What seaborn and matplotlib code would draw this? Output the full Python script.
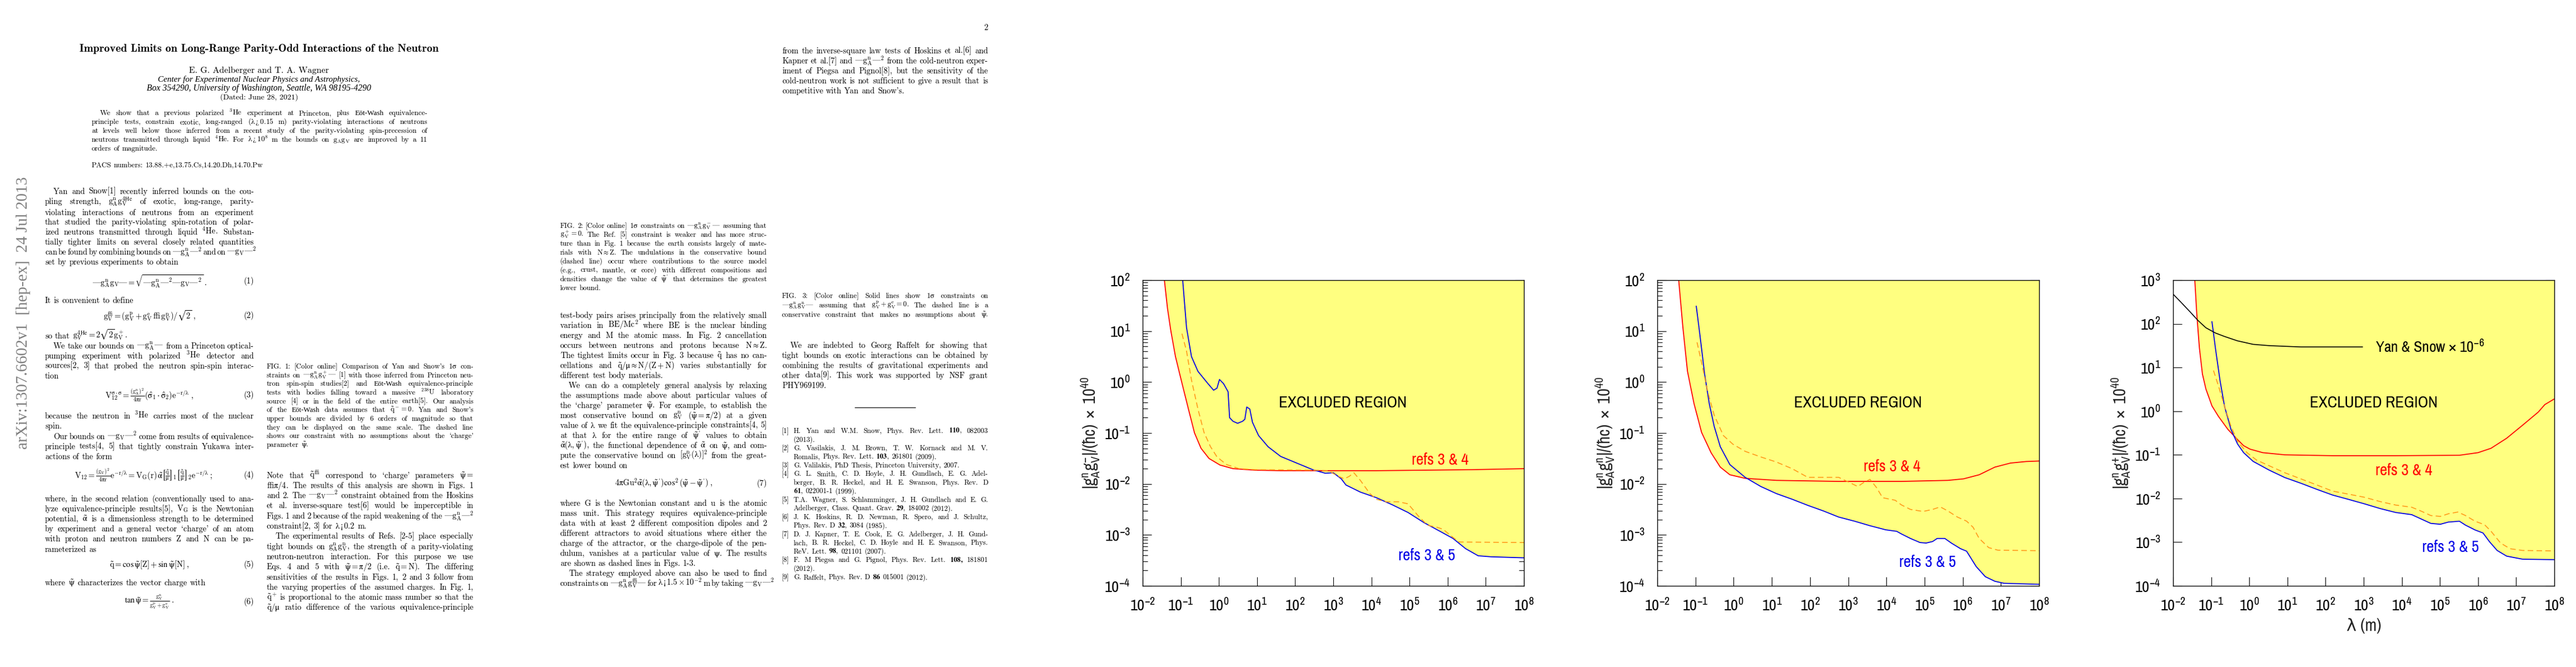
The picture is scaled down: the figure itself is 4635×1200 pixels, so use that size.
import matplotlib
matplotlib.use('Agg')
import matplotlib.pyplot as plt
import seaborn as sns
import numpy as np
import pandas as pd
from matplotlib import font_manager as fm
from matplotlib.ticker import LogLocator, NullLocator, LogFormatterSciNotation, NullFormatter

# ---------------- data (log10 values) ----------------
X_TICK_EXPONENTS = list(range(-2, 9))

# Panel 1 : |g_A^n g_V^-|
P1_RED_LOGX = [-1.43, -1.35, -1.26, -1.14, -0.97, -0.80, -0.64, -0.47, -0.26, 0.03, 0.37, 0.95, 1.62, 4.13, 6.64, 8.0]
P1_RED_LOGY = [2.0, 1.45, 1.0, 0.50, -0.02, -0.53, -1.0, -1.30, -1.50, -1.63, -1.70, -1.73, -1.74, -1.74, -1.72, -1.70]
P1_BLUE_LOGX = [-0.95, -0.85, -0.72, -0.55, -0.30, -0.14, -0.05, 0.015, 0.12, 0.24, 0.28, 0.37, 0.49, 0.62, 0.68, 0.73,
                0.81, 0.88, 1.04, 1.29, 1.62, 2.04, 2.46, 2.79, 3.0, 3.21, 3.33, 3.71, 4.13, 4.55, 4.96, 5.38, 5.80,
                6.14, 6.47, 6.80, 7.14, 8.0]
P1_BLUE_LOGY = [2.0, 1.07, 0.50, 0.21, -0.02, -0.16, -0.12, 0.05, -0.03, -0.19, -0.70, -0.77, -0.81, -0.77, -0.73, -0.49,
                -0.53, -0.79, -1.05, -1.27, -1.46, -1.59, -1.72, -1.79, -1.78, -1.90, -2.02, -2.16, -2.27, -2.41, -2.56,
                -2.76, -2.93, -3.07, -3.27, -3.41, -3.43, -3.45]
P1_DASH_LOGX = [-0.97, -0.85, -0.72, -0.55, -0.39, -0.22, -0.05, 0.20, 0.53, 0.95, 2.46, 2.87, 3.13, 3.29, 3.42, 3.54,
                3.71, 3.96, 4.13, 4.38, 4.71, 4.96, 5.22, 5.47, 5.72, 5.88, 6.14, 6.30, 8.0]
P1_DASH_LOGY = [0.95, 0.61, 0.04, -0.53, -0.99, -1.27, -1.47, -1.62, -1.70, -1.72, -1.73, -1.74, -1.85, -1.90, -1.85,
                -1.78, -1.93, -2.19, -2.30, -2.35, -2.35, -2.39, -2.62, -2.81, -2.85, -2.89, -3.05, -3.14, -3.15]

# Panel 2 : |g_A^n g_V^n|
P2_RED_LOGX = [-1.44, -1.33, -1.21, -1.04, -0.84, -0.59, -0.35, -0.10, 0.30, 1.12, 2.75, 4.39, 5.61, 6.02, 6.43, 6.84, 7.25, 7.66, 8.0]
P2_RED_LOGY = [2.0, 1.07, 0.21, -0.42, -0.99, -1.39, -1.67, -1.82, -1.89, -1.93, -1.95, -1.95, -1.93, -1.90, -1.82, -1.67, -1.59, -1.56, -1.55]
P2_BLUE_LOGX = [-0.98, -0.88, -0.76, -0.64, -0.51, -0.35, -0.10, 0.30, 0.71, 1.12, 1.53, 1.94, 2.35, 2.75, 3.16, 3.57,
                3.98, 4.27, 4.39, 4.63, 4.88, 5.04, 5.21, 5.33, 5.53, 5.70, 5.94, 6.10, 6.35, 6.59, 6.84, 7.08, 8.0]
P2_BLUE_LOGY = [1.49, 0.90, 0.15, -0.42, -0.87, -1.27, -1.62, -1.87, -2.05, -2.19, -2.30, -2.42, -2.53, -2.65, -2.73, -2.82,
                -2.90, -2.93, -2.98, -3.07, -3.15, -3.16, -3.13, -3.07, -3.07, -3.16, -3.27, -3.32, -3.62, -3.82, -3.91, -3.95, -3.97]
P2_DASH_LOGX = [-0.96, -0.84, -0.68, -0.51, -0.27, -0.02, 0.30, 0.71, 1.12, 1.53, 1.94, 2.75, 3.0, 3.25, 3.41, 3.57,
                3.74, 3.90, 4.23, 4.39, 4.63, 4.96, 5.21, 5.41, 5.61, 5.86, 6.10, 6.27, 6.43, 6.68, 6.92, 8.0]
P2_DASH_LOGY = [0.78, 0.38, -0.19, -0.65, -1.05, -1.22, -1.36, -1.47, -1.57, -1.70, -1.87, -1.87, -1.96, -2.05, -1.97, -1.91,
                -2.07, -2.27, -2.32, -2.41, -2.50, -2.54, -2.50, -2.45, -2.53, -2.65, -2.73, -2.85, -3.07, -3.25, -3.30, -3.31]

# Panel 3 : |g_A^n g_V^+|
P3_RED_LOGX = [-1.43, -1.38, -1.31, -1.23, -1.14, -0.98, -0.81, -0.56, -0.31, -0.15, 0.02, 0.35, 0.93, 2.18, 3.84, 5.51,
               6.0, 6.34, 6.75, 7.17, 7.58, 7.75, 8.0]
P3_RED_LOGY = [3.0, 2.25, 1.45, 0.85, 0.51, 0.12, -0.12, -0.42, -0.65, -0.79, -0.87, -0.95, -1.0, -1.02, -1.02, -1.01,
               -0.95, -0.85, -0.62, -0.32, -0.02, 0.15, 0.28]
P3_BLUE_LOGX = [-0.98, -0.89, -0.77, -0.65, -0.48, -0.31, -0.15, 0.10, 0.52, 0.93, 1.35, 1.77, 2.18, 2.60, 3.01, 3.43,
                3.84, 4.26, 4.51, 4.76, 5.01, 5.22, 5.51, 5.67, 5.92, 6.13, 6.30, 6.50, 6.75, 7.17, 8.0]
P3_BLUE_LOGY = [2.05, 1.45, 0.71, 0.11, -0.42, -0.75, -0.95, -1.15, -1.35, -1.52, -1.65, -1.79, -1.92, -2.02, -2.12, -2.23,
                -2.32, -2.37, -2.47, -2.57, -2.59, -2.54, -2.52, -2.61, -2.72, -2.79, -2.99, -3.19, -3.32, -3.39, -3.40]
P3_DASH_LOGX = [-0.94, -0.81, -0.65, -0.48, -0.31, -0.06, 0.19, 0.52, 0.93, 1.35, 1.77, 2.18, 2.60, 3.01, 3.43, 3.84,
                4.26, 4.51, 4.76, 5.01, 5.22, 5.47, 5.67, 5.92, 6.17, 6.34, 6.59, 6.84, 7.17, 8.0]
P3_DASH_LOGY = [0.93, 0.58, 0.11, -0.35, -0.69, -0.95, -1.12, -1.25, -1.41, -1.55, -1.69, -1.83, -1.90, -1.97, -2.07, -2.15,
                -2.20, -2.29, -2.39, -2.41, -2.35, -2.31, -2.39, -2.52, -2.60, -2.75, -3.02, -3.15, -3.19, -3.20]
P3_YS_LOGX = [-2.0, -1.81, -1.56, -1.35, -1.14, -0.89, -0.65, -0.31, 0.10, 0.52, 1.35, 2.18, 2.97]
P3_YS_LOGY = [2.68, 2.51, 2.28, 2.08, 1.91, 1.79, 1.71, 1.61, 1.53, 1.50, 1.47, 1.47, 1.47]

PANEL_YLABELS = [r'$|g^{n}_{A}g^{-}_{V}|/(ħc)\ \times\ 10^{40}$',
                 r'$|g^{n}_{A}g^{n}_{V}|/(ħc)\ \times\ 10^{40}$',
                 r'$|g^{n}_{A}g^{+}_{V}|/(ħc)\ \times\ 10^{40}$']
PANEL_YLIMS = [(1e-4, 1e2), (1e-4, 1e2), (1e-4, 1e3)]

# ---------------- style ----------------
sns.set_style('ticks')
avail = {f.name for f in fm.fontManager.ttflist}
CHART = 'DejaVu Sans'
for cand in ['Liberation Sans Narrow', 'Archivo Narrow', 'Roboto Condensed', 'Fira Sans Condensed',
             'Barlow Semi Condensed', 'DejaVu Sans']:
    if cand in avail:
        CHART = cand
        break
SC = 1.0 if CHART != 'DejaVu Sans' else 0.8
USE_CM = 'cmr10' in avail
SERIF = ['cmr10'] if USE_CM else ['Liberation Serif', 'DejaVu Serif']
SERIF_B = ['cmb10'] if 'cmb10' in avail else ['Liberation Serif', 'DejaVu Serif']
SERIF_ALT = ['Liberation Serif', 'DejaVu Serif']
MATHF = 'stix'
plt.rcParams.update({
    'font.family': [CHART, 'DejaVu Sans'],
    'mathtext.fontset': 'custom',
    'mathtext.rm': CHART,
    'mathtext.it': CHART + ':italic',
    'mathtext.bf': CHART + ':bold',
    'mathtext.default': 'regular',
    'axes.linewidth': 1.0,
    'axes.edgecolor': 'black',
})

W, H = 4635, 1200
fig = plt.figure(figsize=(W / 100, H / 100), dpi=100)
fig.patch.set_facecolor('white')
renderer = fig.canvas.get_renderer()


def fx(x):
    return x / W


def fy(y):
    return 1 - y / H


YELLOW = '#ffff80'
RED = '#ff0000'
BLUE = '#0000e6'
ORANGE = '#ff9a1a'

AX_X = [(2056, 2742), (2982, 3669), (3910, 4596)]
AX_TOP, AX_BOT = 504, 1054

panels = [
    dict(red=(P1_RED_LOGX, P1_RED_LOGY), blue=(P1_BLUE_LOGX, P1_BLUE_LOGY), dash=(P1_DASH_LOGX, P1_DASH_LOGY),
         ex=(0.525, 0.599), r34=(0.780, 0.411), r35=(0.745, 0.099)),
    dict(red=(P2_RED_LOGX, P2_RED_LOGY), blue=(P2_BLUE_LOGX, P2_BLUE_LOGY), dash=(P2_DASH_LOGX, P2_DASH_LOGY),
         ex=(0.525, 0.599), r34=(0.614, 0.390), r35=(0.708, 0.078)),
    dict(red=(P3_RED_LOGX, P3_RED_LOGY), blue=(P3_BLUE_LOGX, P3_BLUE_LOGY), dash=(P3_DASH_LOGX, P3_DASH_LOGY),
         ex=(0.526, 0.599), r34=(0.605, 0.378), r35=(0.727, 0.126)),
]


def curve_df(lx, ly):
    return pd.DataFrame({'x': np.power(10.0, lx), 'y': np.power(10.0, ly)})


for i, p in enumerate(panels):
    x0, x1 = AX_X[i]
    ax = fig.add_axes([fx(x0), fy(AX_BOT), (x1 - x0) / W, (AX_BOT - AX_TOP) / H])
    ax.set_xscale('log')
    ax.set_yscale('log')
    ylo, yhi = PANEL_YLIMS[i]
    ax.set_xlim(10.0 ** X_TICK_EXPONENTS[0], 10.0 ** X_TICK_EXPONENTS[-1])
    ax.set_ylim(ylo, yhi)
    ax.set_facecolor('white')

    red = curve_df(*p['red'])
    blue = curve_df(*p['blue'])
    dash = curve_df(*p['dash'])
    for d in (red, blue):
        ax.fill_between(d['x'], d['y'], yhi, color=YELLOW, lw=0, zorder=1)
    sns.lineplot(data=red, x='x', y='y', ax=ax, color=RED, lw=1.3, estimator=None, sort=False, legend=False, zorder=3)
    sns.lineplot(data=blue, x='x', y='y', ax=ax, color=BLUE, lw=1.3, estimator=None, sort=False, legend=False, zorder=3)
    sns.lineplot(data=dash, x='x', y='y', ax=ax, color=ORANGE, lw=1.2, linestyle=(0, (6, 3.5)), estimator=None,
                 sort=False, legend=False, zorder=3)
    if i == 2:
        ys = curve_df(P3_YS_LOGX, P3_YS_LOGY)
        sns.lineplot(data=ys, x='x', y='y', ax=ax, color='black', lw=1.2, estimator=None, sort=False, legend=False,
                     zorder=3)
        ax.text(0.530, 0.78, r'Yan & Snow $\times$ 10$^{-6}$', transform=ax.transAxes, ha='left', va='center',
                fontsize=20 * SC, color='black')
        ax.set_xlabel('λ (m)', fontsize=22 * SC, labelpad=6)
    else:
        ax.set_xlabel('')

    ax.text(*p['ex'], 'EXCLUDED REGION', transform=ax.transAxes, ha='center', va='center', fontsize=21 * SC,
            color='black')
    ax.text(*p['r34'], 'refs 3 & 4', transform=ax.transAxes, ha='center', va='center', fontsize=21 * SC, color=RED)
    ax.text(*p['r35'], 'refs 3 & 5', transform=ax.transAxes, ha='center', va='center', fontsize=21 * SC, color=BLUE)

    ax.set_ylabel(PANEL_YLABELS[i], fontsize=22 * SC)
    ax.yaxis.set_label_coords(-0.108, 0.5)

    ax.xaxis.set_major_locator(LogLocator(base=10, numticks=30))
    ax.xaxis.set_minor_locator(NullLocator())
    ax.xaxis.set_major_formatter(LogFormatterSciNotation())
    ax.yaxis.set_major_locator(LogLocator(base=10, numticks=30))
    if i < 2:
        ax.yaxis.set_minor_locator(LogLocator(base=10, subs=np.arange(2, 10), numticks=30))
    else:
        ax.yaxis.set_minor_locator(NullLocator())
    ax.yaxis.set_minor_formatter(NullFormatter())
    ax.tick_params(which='both', direction='in', top=True, right=True, width=0.8, colors='black')
    ax.tick_params(which='major', length=11.5, labelsize=20.5 * SC)
    ax.tick_params(which='minor', length=6.5)
    ax.tick_params(axis='x', which='major', pad=15)
    ax.tick_params(axis='y', which='major', pad=16)
    for s in ax.spines.values():
        s.set_visible(True)
        s.set_linewidth(1.0)
        s.set_zorder(5)

# ---------------- paper text ----------------


def prep(word):
    """Pick a font for a word: the bundled cmr10 lacks some glyphs."""
    if not USE_CM:
        return word, SERIF
    plain = word
    if '$' not in word:
        plain = word.replace('’', "'").replace('‘', '`').replace('–', '-')
    else:
        outside = word.split('$')[0::2]
        if any(c in ''.join(outside) for c in '’‘–'):
            parts = word.split('$')
            for k in range(0, len(parts), 2):
                parts[k] = parts[k].replace('’', "'").replace('‘', '`').replace('–', '-')
            plain = '$'.join(parts)
    outside = ''.join(plain.split('$')[0::2])
    if any(ord(c) > 126 for c in outside):
        return word, SERIF_ALT
    return plain, SERIF


def tokens(s):
    out, cur, inmath = [], '', False
    for ch in s:
        if ch == '$':
            inmath = not inmath
            cur += ch
        elif ch == ' ' and not inmath:
            if cur:
                out.append(cur)
            cur = ''
        else:
            cur += ch
    if cur:
        out.append(cur)
    return out


def L(x0, x1, y, s, size, just=True, indent=0):
    words = tokens(s)
    xs = x0 + indent
    base = y + size * 100 / 72 * 0.45
    ts, ws = [], []
    for w in words:
        txt, fam = prep(w)
        t = fig.text(fx(xs), fy(base), txt, fontsize=size, family=fam, math_fontfamily=MATHF, va='baseline',
                     ha='left', color='black')
        ws.append(t.get_window_extent(renderer).width)
        ts.append(t)
    if just and len(words) > 1:
        gap = (x1 - xs - sum(ws)) / (len(words) - 1)
        gap = max(gap, 2.0)
    else:
        gap = size * 100 / 72 * 0.33
    x = xs
    for t, w in zip(ts, ws):
        t.set_x(fx(x))
        x += w + gap


def C(x, y, s, size, fam=None, ha='center', style='normal', fit=None):
    if fam is None:
        s, fam = prep(s)
    t = fig.text(fx(x), fy(y), s, fontsize=size, family=fam, math_fontfamily=MATHF, va='center', ha=ha,
                 style=style, color='black')
    if fit:
        w = t.get_window_extent(renderer).width
        t.set_fontsize(size * fit / w)
    return t


def block(x0, x1, y0, dy, lines, size, indents=(), last=()):
    for k, s in enumerate(lines):
        L(x0, x1, y0 + k * dy, s, size, just=(k not in last), indent=(15 if k in indents else 0))


BODY, CAP, ABS, REF = 10.5, 9.3, 9.5, 9.2

# arXiv stamp
fig.text(fx(42), fy(563), 'arXiv:1307.6602v1  [hep-ex]  24 Jul 2013', rotation=90, ha='center', va='center',
         fontsize=21, family=['Liberation Serif', 'DejaVu Serif'], color='#808080')

# page 1 header
C(466, 88, 'Improved Limits on Long-Range Parity-Odd Interactions of the Neutron', 13.3, fam=SERIF_B, fit=648)
C(466, 127, 'E. G. Adelberger and T. A. Wagner', 11, fit=252)
C(466, 143, 'Center for Experimental Nuclear Physics and Astrophysics,', 10, fam=SERIF_ALT, style='italic', fit=363)
C(466, 159, 'Box 354290, University of Washington, Seattle, WA 98195-4290', 10, fam=SERIF_ALT, style='italic', fit=405)
C(466, 175, '(Dated: June 28, 2021)', 10, fit=141)
abstract = [
    'We show that a previous polarized $^3$He experiment at Princeton, plus Eöt-Wash equivalence-',
    r'principle tests, constrain exotic, long-ranged ($\lambda>0.15$ m) parity-violating interactions of neutrons',
    'at levels well below those inferred from a recent study of the parity-violating spin-precession of',
    r'neutrons transmitted through liquid $^4$He. For $\lambda>10^8$ m the bounds on $g_Ag_V$ are improved by a 11',
    'orders of magnitude.',
]
block(165, 769, 201, 16, abstract, ABS, indents=(0,), last=(4,))
L(165, 769, 295, 'PACS numbers: 13.88.+e,13.75.Cs,14.20.Dh,14.70.Pw', ABS, just=False)

# page 1 left column
c0, c1 = 81, 457
block(c0, c1, 342, 18.5, [
    'Yan and Snow[1] recently inferred bounds on the cou-',
    r'pling strength, $g_A^ng_V^{4\mathrm{He}}$ of exotic, long-range, parity-',
], BODY, indents=(0,))
block(c0, c1, 380, 17.8, [
    'violating interactions of neutrons from an experiment',
    'that studied the parity-violating spin-rotation of polar-',
    r'ized neutrons transmitted through liquid $^4$He. Substan-',
    'tially tighter limits on several closely related quantities',
    r'can be found by combining bounds on $|g_A^n|^2$ and on $|g_V|^2$',
    'set by previous experiments to obtain',
], BODY, last=(5,))
cm1 = (c0 + c1) / 2
C(cm1, 506, r'$|g_A^ng_V|=\sqrt{|g_A^n|^2|g_V|^2}\ .$', BODY)
C(c1, 506, '(1)', BODY, ha='right')
L(c0, c1, 538, 'It is convenient to define', BODY, just=False)
C(cm1, 568, r'$g_V^{\pm}=(g_V^p+g_V^e\pm g_V^n)/\sqrt{2}\ ,$', BODY)
C(c1, 568, '(2)', BODY, ha='right')
L(c0, c1, 602, r'so that $g_V^{4\mathrm{He}}=2\sqrt{2}g_V^+$.', BODY, just=False)
block(c0, c1, 620, 18, [
    r'We take our bounds on $|g_A^n|$ from a Princeton optical-',
    'pumping experiment with polarized $^3$He detector and',
    'sources[2, 3] that probed the neutron spin-spin interac-',
    'tion',
], BODY, indents=(0,), last=(3,))
C(cm1, 711, r'$V_{12}^{\sigma\cdot\sigma}=\frac{(g_A^n)^2}{4\pi r}(\hat{\sigma}_1\cdot\hat{\sigma}_2)e^{-r/\lambda}\ ,$', BODY)
C(c1, 711, '(3)', BODY, ha='right')
block(c0, c1, 746, 18, [
    'because the neutron in $^3$He carries most of the nuclear',
    'spin.',
], BODY, last=(1,))
block(c0, c1, 783, 18, [
    r'Our bounds on $|g_V|^2$ come from results of equivalence-',
    'principle tests[4, 5] that tightly constrain Yukawa inter-',
    'actions of the form',
], BODY, indents=(0,), last=(2,))
C(258, 855, r'$V_{12}=\frac{(g_V)^2}{4\pi r}e^{-r/\lambda}=V_G(r)\,\tilde{\alpha}\left[\frac{\tilde{q}}{\mu}\right]_1\left[\frac{\tilde{q}}{\mu}\right]_2e^{-r/\lambda}\ ;$', BODY)
C(c1, 855, '(4)', BODY, ha='right')
block(c0, c1, 895, 18.2, [
    'where, in the second relation (conventionally used to ana-',
    r'lyze equivalence-principle results[5], $V_G$ is the Newtonian',
    r'potential, $\tilde{\alpha}$ is a dimensionless strength to be determined',
    'by experiment and a general vector ‘charge’ of an atom',
    'with proton and neutron numbers $Z$ and $N$ can be pa-',
    'rameterized as',
], BODY, last=(5,))
C(cm1, 1016, r'$\tilde{q}=\cos\tilde{\psi}[Z]+\sin\tilde{\psi}[N]\ ,$', BODY)
C(c1, 1016, '(5)', BODY, ha='right')
L(c0, c1, 1046, r'where $\tilde{\psi}$ characterizes the vector charge with', BODY, just=False)
C(cm1, 1083, r'$\tan\tilde{\psi}=\frac{g_V^n}{g_V^p+g_V^e}\ .$', BODY)
C(c1, 1083, '(6)', BODY, ha='right')

# page 1 right column
r0, r1 = 480, 852
block(r0, r1, 657, 15.7, [
    r'FIG. 1: [Color online] Comparison of Yan and Snow’s 1$\sigma$ con-',
    r'straints on $|g_A^ng_V^+|$ [1] with those inferred from Princeton neu-',
    'tron spin-spin studies[2] and Eöt-Wash equivalence-principle',
    'tests with bodies falling toward a massive $^{238}$U laboratory',
    'source [4] or in the field of the entire earth[5]. Our analysis',
    r'of the Eöt-Wash data assumes that $\tilde{q}^-=0$. Yan and Snow’s',
    'upper bounds are divided by 6 orders of magnitude so that',
    'they can be displayed on the same scale. The dashed line',
    'shows our constraint with no assumptions about the ‘charge’',
    r'parameter $\tilde{\psi}$.',
], CAP, last=(9,))
block(r0, r1, 853, 18.3, [
    r'Note that $\tilde{q}^{\pm}$ correspond to ‘charge’ parameters $\tilde{\psi}=$',
    r'$\pm\pi/4$. The results of this analysis are shown in Figs. 1',
    r'and 2. The $|g_V|^2$ constraint obtained from the Hoskins',
    'et al. inverse-square test[6] would be imperceptible in',
    r'Figs. 1 and 2 because of the rapid weakening of the $|g_A^n|^2$',
    r'constraint[2, 3] for $\lambda<0.2$ m.',
    'The experimental results of Refs. [2–5] place especially',
    r'tight bounds on $g_A^ng_V^n$, the strength of a parity-violating',
    'neutron-neutron interaction. For this purpose we use',
    r'Eqs. 4 and 5 with $\tilde{\psi}=\pi/2$ (i.e. $\tilde{q}=N$). The differing',
    'sensitivities of the results in Figs. 1, 2 and 3 follow from',
    'the varying properties of the assumed charges. In Fig. 1,',
    r'$\tilde{q}^+$ is proportional to the atomic mass number so that the',
    r'$\tilde{q}/\mu$ ratio difference of the various equivalence-principle',
], BODY, indents=(6,), last=(5,))

# page 2 left column
s0, s1 = 1008, 1380
block(s0, s1, 404, 16, [
    r'FIG. 2: [Color online] 1$\sigma$ constraints on $|g_A^ng_V^-|$ assuming that',
    r'$g_V^+=0$. The Ref. [5] constraint is weaker and has more struc-',
    'ture than in Fig. 1 because the earth consists largely of mate-',
    r'rials with $N\approx Z$. The undulations in the conservative bound',
    '(dashed line) occur where contributions to the source model',
    '(e.g., crust, mantle, or core) with different compositions and',
    r"densities change the value of $\tilde{\psi}'$ that determines the greatest",
    'lower bound.',
], CAP, last=(7,))
block(s0, s1, 565, 18, [
    'test-body pairs arises principally from the relatively small',
    r'variation in $BE/Mc^2$ where $BE$ is the nuclear binding',
    'energy and $M$ the atomic mass. In Fig. 2 cancellation',
    r'occurs between neutrons and protons because $N\approx Z$.',
    r'The tightest limits occur in Fig. 3 because $\tilde{q}$ has no can-',
    r'cellations and $\tilde{q}/\mu\approx N/(Z+N)$ varies substantially for',
    'different test body materials.',
    'We can do a completely general analysis by relaxing',
    'the assumptions made above about particular values of',
    r'the ‘charge’ parameter $\tilde{\psi}$. For example, to establish the',
    r'most conservative bound on $g_V^n$ ($\tilde{\psi}=\pi/2$) at a given',
    r'value of $\lambda$ we fit the equivalence-principle constraints[4, 5]',
    r"at that $\lambda$ for the entire range of $\tilde{\psi}'$ values to obtain",
    r"$\tilde{\alpha}(\lambda,\tilde{\psi}')$, the functional dependence of $\tilde{\alpha}$ on $\tilde{\psi}$, and com-",
    r'pute the conservative bound on $[g_V^n(\lambda)]^2$ from the great-',
    'est lower bound on',
], BODY, indents=(7,), last=(6, 15))
C((s0 + s1) / 2, 870, r"$4\pi Gu^2\tilde{\alpha}(\lambda,\tilde{\psi}')\cos^2(\tilde{\psi}-\tilde{\psi}')\ ,$", BODY)
C(s1, 870, '(7)', BODY, ha='right')
block(s0, s1, 903, 18, [
    'where $G$ is the Newtonian constant and $u$ is the atomic',
    'mass unit. This strategy requires equivalence-principle',
    'data with at least 2 different composition dipoles and 2',
    'different attractors to avoid situations where either the',
    'charge of the attractor, or the charge-dipole of the pen-',
    r'dulum, vanishes at a particular value of $\psi$. The results',
    'are shown as dashed lines in Figs. 1-3.',
    'The strategy employed above can also be used to find',
    r'constraints on $|g_A^ng_V^{\pm}|$ for $\lambda<1.5\times10^{-2}$ m by taking $|g_V|^2$',
], BODY, indents=(7,), last=(6,))

# page 2 right column
q0, q1 = 1407, 1778
C(q1, 50, '2', BODY, ha='right')
block(q0, q1, 89, 18.2, [
    'from the inverse-square law tests of Hoskins et al.[6] and',
    r'Kapner et al.[7] and $|g_A^n|^2$ from the cold-neutron exper-',
    'iment of Piegsa and Pignol[8], but the sensitivity of the',
    'cold-neutron work is not sufficient to give a result that is',
    'competitive with Yan and Snow’s.',
], BODY, last=(4,))
block(q0, q1, 530, 17, [
    r'FIG. 3: [Color online] Solid lines show 1$\sigma$ constraints on',
    r'$|g_A^ng_V^n|$ assuming that $g_V^p+g_V^e=0$. The dashed line is a',
    r'conservative constraint that makes no assumptions about $\tilde{\psi}$.',
], CAP)
block(q0, q1, 619, 18, [
    'We are indebted to Georg Raffelt for showing that',
    'tight bounds on exotic interactions can be obtained by',
    'combining the results of gravitational experiments and',
    'other data[9]. This work was supported by NSF grant',
    'PHY969199.',
], BODY, indents=(0,), last=(4,))
fig.add_artist(plt.Line2D([fx(1538), fx(1647)], [fy(733), fy(733)], color='black', lw=0.8))

refs = [
    ('[1]', r'H. Yan and W.M. Snow, Phys. Rev. Lett. $\mathbf{110}$, 082003', True),
    ('', '(2013).', False),
    ('[2]', 'G. Vasilakis, J. M. Brown, T. W. Kornack and M. V.', True),
    ('', r'Romalis, Phys. Rev. Lett. $\mathbf{103}$, 261801 (2009).', False),
    ('[3]', 'G. Valilakis, PhD Thesis, Princeton University, 2007.', False),
    ('[4]', 'G. L. Smith, C. D. Hoyle, J. H. Gundlach, E. G. Adel-', True),
    ('', 'berger, B. R. Heckel, and H. E. Swanson, Phys. Rev. D', True),
    ('', r'$\mathbf{61}$, 022001-1 (1999).', False),
    ('[5]', 'T.A. Wagner, S. Schlamminger, J. H. Gundlach and E. G.', True),
    ('', r'Adelberger, Class. Quant. Grav. $\mathbf{29}$, 184002 (2012).', False),
    ('[6]', 'J. K. Hoskins, R. D. Newman, R. Spero, and J. Schultz,', True),
    ('', r'Phys. Rev. D $\mathbf{32}$, 3084 (1985).', False),
    ('[7]', 'D. J. Kapner, T. E. Cook, E. G. Adelberger, J. H. Gund-', True),
    ('', 'lach, B. R. Heckel, C. D. Hoyle and H. E. Swanson, Phys.', True),
    ('', r'ReV. Lett. $\mathbf{98}$, 021101 (2007).', False),
    ('[8]', r'F. M Piegsa and G. Pignol, Phys. Rev. Lett. $\mathbf{108,}$ 181801', True),
    ('', '(2012).', False),
    ('[9]', r'G. Raffelt, Phys. Rev. D $\mathbf{86}$ 015001 (2012).', False),
]
for k, (lab, txt, j) in enumerate(refs):
    yy = 773 + k * 15.5
    if lab:
        L(q0, q0 + 20, yy, lab, REF, just=False)
    L(1428, q1, yy, txt, REF, just=j)

fig.savefig('out.png', dpi=100, facecolor='white')
